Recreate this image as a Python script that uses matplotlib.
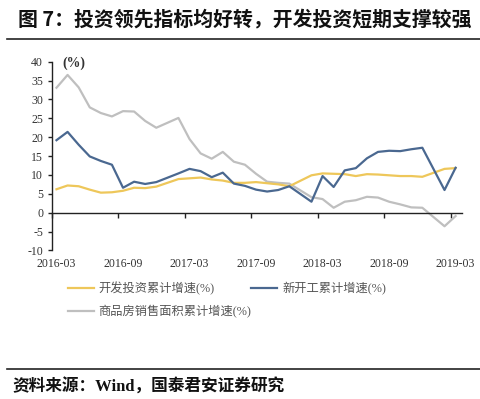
import matplotlib
matplotlib.use("Agg")
import matplotlib.pyplot as plt
from matplotlib.lines import Line2D
from matplotlib.ticker import FixedLocator, NullFormatter
import pandas as pd

plt.rcParams["axes.unicode_minus"] = False

# ---------------- data ----------------
dates = ["2016-03", "2016-04", "2016-05", "2016-06", "2016-07", "2016-08", "2016-09", "2016-10", "2016-11", "2016-12",
         "2017-02", "2017-03", "2017-04", "2017-05", "2017-06", "2017-07", "2017-08", "2017-09", "2017-10", "2017-11", "2017-12",
         "2018-02", "2018-03", "2018-04", "2018-05", "2018-06", "2018-07", "2018-08", "2018-09", "2018-10", "2018-11", "2018-12",
         "2019-02", "2019-03"]
invest = [6.2, 7.2, 7.0, 6.1, 5.3, 5.4, 5.8, 6.6, 6.5, 6.9,
          8.9, 9.1, 9.3, 8.8, 8.5, 7.9, 7.9, 8.1, 7.8, 7.5, 7.0,
          9.9, 10.4, 10.3, 10.2, 9.7, 10.2, 10.1, 9.9, 9.7, 9.7, 9.5,
          11.6, 11.8]
starts = [19.2, 21.4, 18.0, 14.9, 13.7, 12.7, 6.6, 8.2, 7.6, 8.1,
          10.4, 11.6, 11.0, 9.4, 10.6, 7.7, 7.1, 6.1, 5.6, 6.0, 7.0,
          2.9, 9.7, 6.8, 11.2, 11.8, 14.4, 16.1, 16.4, 16.3, 16.8, 17.2,
          6.0, 11.9]
sales = [33.1, 36.5, 33.2, 27.9, 26.4, 25.5, 26.9, 26.8, 24.3, 22.5,
         25.1, 19.5, 15.7, 14.3, 16.1, 13.5, 12.7, 10.3, 8.2, 7.9, 7.7,
         4.1, 3.6, 1.3, 2.9, 3.3, 4.2, 4.0, 2.9, 2.2, 1.4, 1.3,
         -3.6, -0.9]
tick_labels = ["2016-03", "2016-09", "2017-03", "2017-09", "2018-03", "2018-09", "2019-03"]
labels = ["开发投资累计增速(%)", "新开工累计增速(%)", "商品房销售面积累计增速(%)"]
title = "图 7：投资领先指标均好转，开发投资短期支撑较强"
source = "资料来源：Wind，国泰君安证券研究"

# ---------------- helpers ----------------
base = pd.Period("2016-03", freq="M")
def midx(s):
    return (pd.Period(s, freq="M") - base).n

x = [midx(d) for d in dates]
tick_pos = [midx(t) for t in tick_labels]

C_Y = "#EEC75A"
C_B = "#4A6890"
C_G = "#BFBFBF"
TXT = "#333333"

fig = plt.figure(figsize=(4.8, 3.99), dpi=100)
W, H = 480, 399

ax = fig.add_axes([51.5 / W, 1 - 250.4 / H, (461.7 - 51.5) / W, (250.4 - 61.7) / H])
ax.plot(x, sales, color=C_G, lw=1.6, solid_joinstyle="round", zorder=2)
ax.plot(x, invest, color=C_Y, lw=1.6, solid_joinstyle="round", zorder=3)
ax.plot(x, starts, color=C_B, lw=1.6, solid_joinstyle="round", zorder=4)

ax.set_xlim(-0.45, 36.55)
ax.set_ylim(-10, 40)

for s in ["top", "right"]:
    ax.spines[s].set_visible(False)
ax.spines["bottom"].set_position(("data", 0))
ax.spines["bottom"].set_color("#222222")
ax.spines["left"].set_color("#222222")
ax.spines["bottom"].set_linewidth(1.0)
ax.spines["left"].set_linewidth(1.0)

ax.set_yticks(range(-10, 41, 5))
ax.tick_params(axis="y", direction="out", length=3, width=1.0, color="#222222",
               labelsize=8.5, labelcolor=TXT, pad=3)

ax.xaxis.set_major_locator(FixedLocator(tick_pos))
ax.set_xticklabels(tick_labels)
ax.xaxis.set_minor_locator(FixedLocator([p - 0.45 for p in tick_pos]))
ax.xaxis.set_minor_formatter(NullFormatter())
ax.tick_params(axis="x", which="major", length=0, labelsize=8.5, labelcolor=TXT, pad=33)
ax.tick_params(axis="x", which="minor", direction="out", length=3.5, width=1.0, color="#222222")

for lab in ax.get_xticklabels() + ax.get_yticklabels():
    lab.set_fontfamily("Liberation Serif")

fig.text(62.5 / W, 1 - 63 / H, "(%)", fontfamily="Liberation Serif", fontweight="bold",
         fontsize=10, color=TXT, va="center", ha="left")

# legend
handles = [Line2D([], [], color=C_Y, lw=1.6),
           Line2D([], [], color=C_G, lw=1.6),
           Line2D([], [], color=C_B, lw=1.6)]
leg = fig.legend(handles, [labels[0], labels[2], labels[1]], ncol=2, loc="upper left",
                 bbox_to_anchor=(68 / W, 1 - 282 / H), frameon=False,
                 prop={"family": ["Liberation Serif", "Noto Sans CJK SC"], "size": 8.8},
                 handlelength=2.1, handletextpad=0.4, columnspacing=0.0,
                 labelspacing=0.8, borderpad=0, borderaxespad=0)
for t in leg.get_texts():
    t.set_color("#555555")

# title and footer
fig.text(18 / W, 1 - 18.5 / H, title, fontfamily=["Noto Sans CJK SC"], fontweight="bold",
         fontsize=14.3, color="#111111", va="center", ha="left")
fig.add_artist(Line2D([7 / W, 1], [1 - 39.3 / H, 1 - 39.3 / H], transform=fig.transFigure,
                      color="#222222", lw=1.2))
fig.add_artist(Line2D([7 / W, 1], [1 - 369.3 / H, 1 - 369.3 / H], transform=fig.transFigure,
                      color="#222222", lw=1.2))
fig.text(12.5 / W, 1 - 386.7 / H, source, fontfamily=["Liberation Serif", "Noto Sans CJK SC"],
         fontweight="bold", fontsize=12.0, color="#111111", va="center", ha="left")

fig.savefig("out.png", dpi=100, facecolor="white")
